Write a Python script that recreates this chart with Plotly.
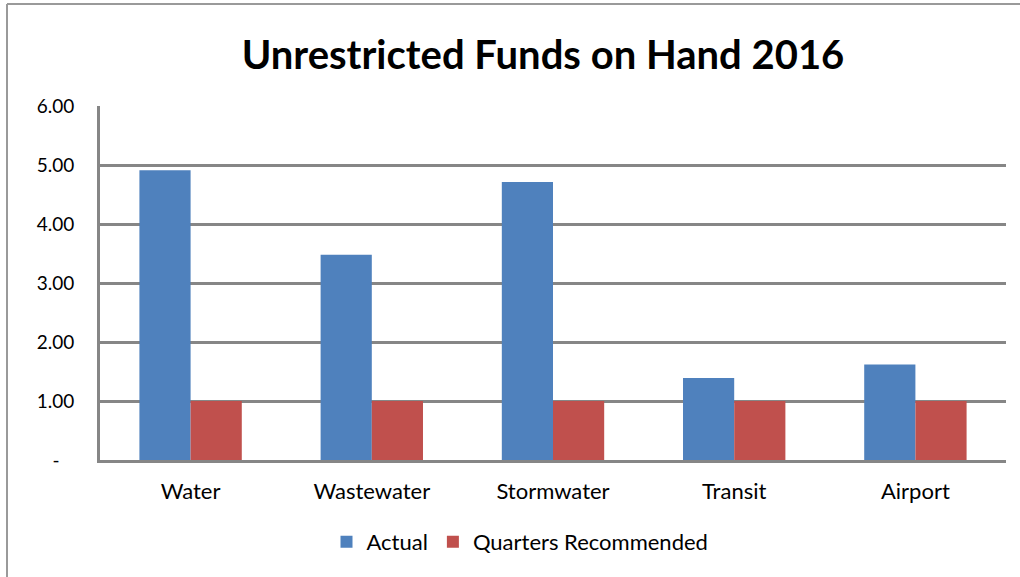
import plotly.graph_objects as go

categories = ["Water", "Wastewater", "Stormwater", "Transit", "Airport"]
actual = [4.91, 3.48, 4.71, 1.39, 1.62]
recommended = [1.00, 1.00, 1.00, 1.00, 1.00]
y_ticks = [0, 1, 2, 3, 4, 5, 6]
y_ticktext = ["-\u00a0\u00a0\u00a0", "1.00", "2.00", "3.00", "4.00", "5.00", "6.00"]

FONT = "Lato"
W, H = 1020, 577
ML, MR, MT, MB = 100, 14, 106, 117

fig = go.Figure()
fig.add_trace(go.Bar(name="Actual", x=categories, y=actual,
                     marker=dict(color="#4F81BD", line=dict(width=0))))
fig.add_trace(go.Bar(name="Quarters Recommended", x=categories, y=recommended,
                     marker=dict(color="#C0504D", line=dict(width=0))))

pw = W - ML - MR
ph = H - MT - MB

fig.update_layout(
    width=W, height=H,
    margin=dict(l=ML, r=MR, t=MT, b=MB, pad=0),
    paper_bgcolor="white", plot_bgcolor="white",
    barmode="group", bargap=0.435, bargroupgap=0,
    font=dict(family=FONT, color="#000000", size=22),
    title=dict(text="<b>Unrestricted Funds on Hand 2016</b>",
               font=dict(family=FONT, size=40, color="#000000"),
               x=543 / W, xanchor="center", xref="container",
               y=1 - 55 / H, yanchor="middle", yref="container"),
    legend=dict(orientation="h", x=(520 - ML) / pw, xanchor="center",
                y=-(542 - (MT + ph)) / ph, yanchor="middle",
                font=dict(family=FONT, size=22), itemwidth=30,
                traceorder="normal"),
    showlegend=True,
    xaxis=dict(showgrid=False, showline=True, linecolor="#868686", linewidth=3,
               ticks="", tickfont=dict(family=FONT, size=22),
               ticklabelstandoff=10),
    yaxis=dict(range=[0, 6], tickvals=y_ticks, ticktext=y_ticktext,
               showgrid=True, gridcolor="#868686", gridwidth=2.5,
               showline=True, linecolor="#868686", linewidth=3,
               zeroline=False, ticks="", tickfont=dict(family=FONT, size=19),
               ticklabelstandoff=19),
)

# outer chart frame (top and left edges visible)
fig.add_shape(type="line", xref="paper", yref="paper",
              x0=(7 - ML) / pw, x1=(W + 5 - ML) / pw,
              y0=1 + (MT - 4) / ph, y1=1 + (MT - 4) / ph,
              line=dict(color="#9a9a9a", width=2))
fig.add_shape(type="line", xref="paper", yref="paper",
              x0=(7 - ML) / pw, x1=(7 - ML) / pw,
              y0=1 + (MT - 4) / ph, y1=-(MB + 5) / ph,
              line=dict(color="#9a9a9a", width=2))

fig.write_html("out.html")
